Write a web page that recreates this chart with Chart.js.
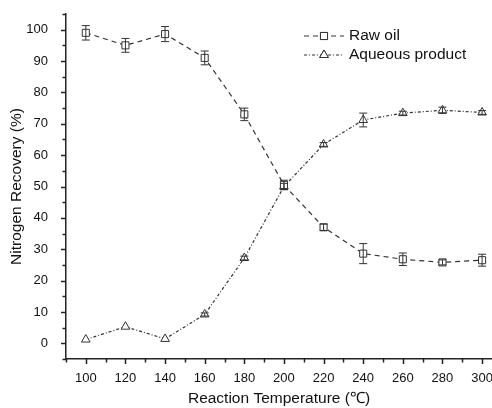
<!DOCTYPE html>
<html lang="en">
<head>
<meta charset="UTF-8">
<title>Nitrogen Recovery</title>
<script src="https://cdn.jsdelivr.net/npm/chart.js"></script>
<style>
  body { margin: 0; background: white; }
  #wrap { width: 492px; height: 408px; }
</style>
</head>
<body>
<div id="wrap"><canvas id="chart" width="492" height="408"></canvas></div>
<script>
// data
const temps = [100, 120, 140, 160, 180, 200, 220, 240, 260, 280, 300];
const rawOil = [99, 95, 98.6, 91, 73, 50.5, 37, 28.6, 26.8, 25.8, 26.5];
const rawOilErr = [2.3, 2.2, 2.4, 2.2, 2, 1.5, 1, 3.2, 2, 0.8, 1.9];
const aqueous = [1.2, 5.3, 1.4, 9.2, 27.2, 50, 63.4, 71.2, 73.4, 74.3, 73.6];
const aqueousErr = [0, 0, 0, 0.5, 0.6, 1, 0.6, 2.2, 0.6, 1, 0.6];
const xTicks = [100, 120, 140, 160, 180, 200, 220, 240, 260, 280, 300];
const yTicks = [0, 10, 20, 30, 40, 50, 60, 70, 80, 90, 100];

const ink = '#333';
const font = "'Liberation Sans', Arial, sans-serif";

function pts(xs, ys) {
    return xs.map((x, i) => ({ x: x, y: ys[i] }));
}

// error bars drawn with the chart's own scales
const errorBars = {
    id: 'errorBars',
    afterDatasetsDraw(chart) {
        const ctx = chart.ctx;
        const ys = chart.scales.y;
        chart.data.datasets.forEach((ds, di) => {
            const meta = chart.getDatasetMeta(di);
            ctx.save();
            ctx.strokeStyle = ink;
            ctx.lineWidth = 1;
            meta.data.forEach((p, i) => {
                const e = ds.errors[i];
                if (!e) return;
                const v = ds.data[i].y;
                const top = ys.getPixelForValue(v + e);
                const bot = ys.getPixelForValue(v - e);
                ctx.beginPath();
                ctx.moveTo(p.x, top); ctx.lineTo(p.x, bot);
                ctx.moveTo(p.x - 4, top); ctx.lineTo(p.x + 4, top);
                ctx.moveTo(p.x - 4, bot); ctx.lineTo(p.x + 4, bot);
                ctx.stroke();
            });
            ctx.restore();
        });
    }
};

// outward major and minor tick marks
const tickMarks = {
    id: 'tickMarks',
    afterDraw(chart) {
        const ctx = chart.ctx;
        const xs = chart.scales.x, ys = chart.scales.y;
        const a = chart.chartArea;
        ctx.save();
        ctx.strokeStyle = '#222';
        ctx.lineWidth = 1.5;
        ctx.beginPath();
        for (let v = xs.min; v <= xs.max; v += 10) {
            const px = Math.round(xs.getPixelForValue(v)) + 0.5;
            const len = v % 20 === 0 ? 5 : 3.5;
            ctx.moveTo(px, a.bottom); ctx.lineTo(px, a.bottom + len);
        }
        for (let v = ys.min; v <= ys.max; v += 5) {
            const py = Math.round(ys.getPixelForValue(v)) + 0.5;
            const len = v % 10 === 0 ? 5 : 3.5;
            ctx.moveTo(a.left, py); ctx.lineTo(a.left - len, py);
        }
        ctx.stroke();
        ctx.restore();
    }
};

// legend with line sample and marker
const lineLegend = {
    id: 'lineLegend',
    afterDraw(chart) {
        const ctx = chart.ctx;
        ctx.save();
        chart.data.datasets.forEach((ds, i) => {
            const y = 36 + i * 19;
            ctx.strokeStyle = ink;
            ctx.lineWidth = 1;
            ctx.setLineDash(ds.borderDash);
            ctx.beginPath();
            ctx.moveTo(304, y); ctx.lineTo(344, y);
            ctx.stroke();
            ctx.setLineDash([]);
            Chart.helpers.drawPoint(ctx, {
                pointStyle: ds.pointStyle, radius: ds.pointRadius,
                borderWidth: 1, rotation: 0
            }, 324, y);
            ctx.fillStyle = '#fff';
            ctx.fill();
            ctx.stroke();
            ctx.fillStyle = '#111';
            ctx.font = '15.5px ' + font;
            ctx.textBaseline = 'middle';
            ctx.fillText(ds.label, 349, y);
        });
        ctx.restore();
    }
};

new Chart(document.getElementById('chart'), {
    type: 'line',
    data: {
        datasets: [{
            label: 'Raw oil',
            data: pts(temps, rawOil),
            errors: rawOilErr,
            borderColor: ink,
            borderWidth: 1.2,
            borderDash: [5, 4],
            pointStyle: 'rect',
            pointRadius: 5,
            pointBorderColor: ink,
            pointBackgroundColor: '#fff',
            pointBorderWidth: 1
        }, {
            label: 'Aqueous product',
            data: pts(temps, aqueous),
            errors: aqueousErr,
            borderColor: ink,
            borderWidth: 1.2,
            borderDash: [3, 2, 1, 2],
            pointStyle: 'triangle',
            pointRadius: 5,
            pointBorderColor: ink,
            pointBackgroundColor: '#fff',
            pointBorderWidth: 1
        }]
    },
    options: {
        responsive: false,
        animation: false,
        layout: { autoPadding: false, padding: { top: 14, right: 0, left: 0, bottom: 0 } },
        plugins: { legend: { display: false }, tooltip: { enabled: false } },
        scales: {
            x: {
                type: 'linear',
                min: 90,
                max: 305,
                afterBuildTicks: s => { s.ticks = xTicks.map(v => ({ value: v })); },
                afterFit: s => { s.height = 49; s.paddingLeft = 0; s.paddingRight = 0; },
                grid: { display: false },
                border: { color: '#222', width: 1.5 },
                ticks: { color: '#111', padding: 4, maxRotation: 0, autoSkip: false,
                          font: { family: font, size: 13 } },
                title: { display: true, text: 'Reaction Temperature (\u2103)', color: '#111',
                         padding: { top: 0, bottom: 0 }, font: { family: font, size: 15.5 } }
            },
            y: {
                min: -5,
                max: 105,
                afterBuildTicks: s => { s.ticks = yTicks.map(v => ({ value: v })); },
                afterFit: s => { s.width = 66; s.paddingTop = 0; s.paddingBottom = 0; },
                grid: { display: false },
                border: { color: '#222', width: 1.5 },
                ticks: { color: '#111', padding: 10, autoSkip: false,
                          font: { family: font, size: 13 } },
                title: { display: true, text: 'Nitrogen Recovery (%)', color: '#111',
                         padding: { top: 7, bottom: 0 }, font: { family: font, size: 15.5 } }
            }
        }
    },
    plugins: [errorBars, tickMarks, lineLegend]
});
</script>
</body>
</html>
